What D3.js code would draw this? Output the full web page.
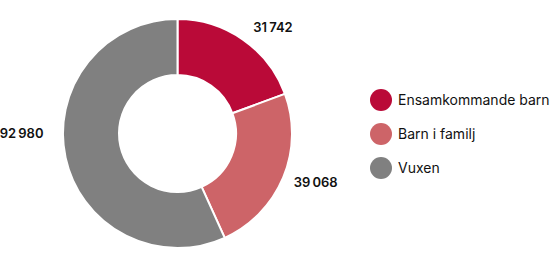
<!DOCTYPE html>
<html><head><meta charset="utf-8">
<script src="https://cdn.jsdelivr.net/npm/d3@7"></script>
<style>html,body{margin:0;padding:0;background:#fff}svg{display:block}</style>
</head><body>
<svg id="chart" width="559" height="267"></svg>
<script>
const categories = ["Ensamkommande barn", "Barn i familj", "Vuxen"];
const values = [31742, 39068, 92980];
const colors = ["#ba0a38", "#cd6468", "#808080"];
const labelAngles = [null, null, -Math.PI / 2]; // override for left-side label alignment
const labelRadii = [129, 126, 134];
const labelShift = [2, 0, 0];

const svg = d3.select("#chart");
const cx = 177.5, cy = 133.5, R = 114.5, r0 = 58.5;
const g = svg.append("g").attr("transform", `translate(${cx},${cy})`);
const pie = d3.pie().sort(null).value(d => d)(values);
const arc = d3.arc().innerRadius(r0).outerRadius(R);
g.selectAll("path").data(pie).join("path")
  .attr("d", arc).attr("fill", (d, i) => colors[i])
  .attr("stroke", "#fff").attr("stroke-width", 2).attr("stroke-linejoin", "round");

const fmt = v => d3.format(",")(v).replace(/,/g, "\u202F");
g.selectAll("text.lbl").data(pie).join("text").attr("class", "lbl")
  .each(function (d, i) {
    let a = (d.startAngle + d.endAngle) / 2;
    if (labelAngles[i] !== null) a = labelAngles[i];
    const lr = labelRadii[i];
    const x = Math.sin(a) * lr + labelShift[i], y = -Math.cos(a) * lr;
    d3.select(this).attr("x", x).attr("y", y)
      .attr("dy", "0.35em")
      .attr("text-anchor", x >= 0 ? "start" : "end");
  })
  .attr("font-family", "Inter, sans-serif").attr("font-size", 13).attr("font-weight", 600)
  .attr("fill", "#111").text(d => fmt(d.data));

const leg = svg.append("g").attr("transform", "translate(381,100)");
const items = leg.selectAll("g").data(categories).join("g")
  .attr("transform", (d, i) => `translate(0,${i * 34})`);
items.append("circle").attr("r", 11).attr("fill", (d, i) => colors[i]);
items.append("text").attr("x", 17).attr("dy", "0.35em")
  .attr("font-family", "Inter, sans-serif").attr("font-size", 14)
  .attr("fill", "#111").text(d => d);
</script>
</body></html>
